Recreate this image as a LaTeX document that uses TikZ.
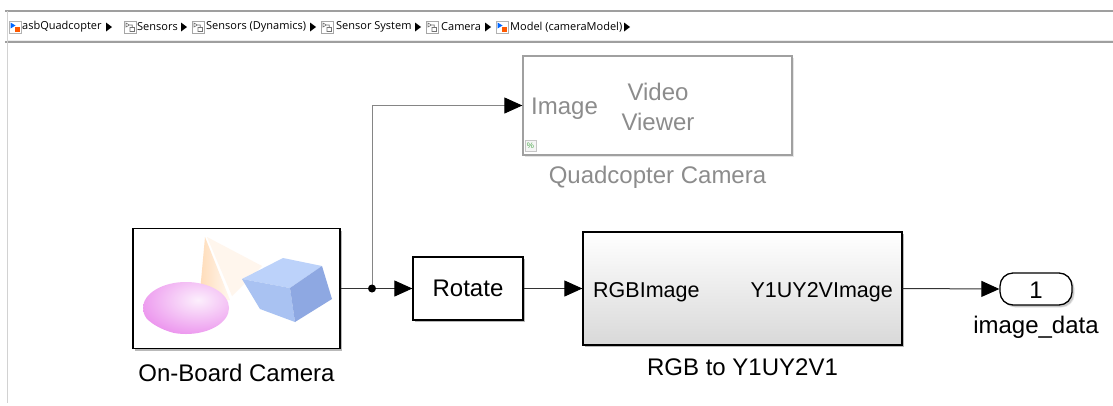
\documentclass[tikz,border=0pt]{standalone}
\usepackage{fontspec}
\setmainfont{Liberation Sans}
\newfontfamily\crumbfont{Open Sans}
\usetikzlibrary{arrows.meta}
\usetikzlibrary{positioning}
\usetikzlibrary{shadows}
\definecolor{cGrey}{HTML}{A0A0A0}
\definecolor{cText}{HTML}{8C8C8C}
\definecolor{cWire}{HTML}{333333}
\definecolor{cBranch}{HTML}{858585}
\definecolor{cPink}{HTML}{EC96EE}
\definecolor{cPinkLo}{HTML}{D08CD8}
\definecolor{cBlueA}{HTML}{BCD2FA}
\definecolor{cBlueB}{HTML}{A9C2F2}
\definecolor{cBlueC}{HTML}{8EA8E2}

\newcommand{\blkfont}{\fontsize{24}{28}\selectfont}
\newcommand{\portfont}{\fontsize{21.5}{25}\selectfont}

% small icons of the path bar
\newcommand{\mdlicon}[1]{%
  \begin{scope}[shift={#1}]
    \draw[gray!60, fill=white] (0,0) rectangle (12,12);
    \fill[blue!60!cyan] (1.5,1.5) -- (6.5,4.5) -- (1.5,7.5) -- cycle;
    \fill[orange!70!red] (6,6) rectangle (11,11);
  \end{scope}}
\newcommand{\subicon}[1]{%
  \begin{scope}[shift={#1}]
    \draw[gray!70, fill=white] (0,0) rectangle (12,12);
    \draw[gray!90!black, line width=0.6pt] (2,2) -- (5.5,4) -- (2,6) -- cycle
      (6,6.5) rectangle (10.5,10.5) (5.5,4) -| (8.2,6.5);
  \end{scope}}

\tikzset{
  blk/.style={draw=black, line width=1.3pt, fill=white, inner sep=0pt,
    drop shadow={shadow xshift=2pt, shadow yshift=-2pt, fill=gray!55, opacity=1}},
  greyblk/.style={draw=cGrey, line width=1.3pt, fill=white, inner sep=0pt,
    drop shadow={shadow xshift=2pt, shadow yshift=-2pt, fill=gray!20, opacity=1}},
  wire/.style={cWire, line width=1pt},
  branch/.style={cBranch, line width=1pt},
  tip/.style={-{Triangle[length=18pt, width=16pt, color=black]}},
  lbl/.style={anchor=base, inner sep=0pt, font=\blkfont},
  crumb/.style={anchor=west, inner sep=0pt, font=\crumbfont\fontsize{11}{12}\selectfont},
  barline/.style={gray!75, line width=1.4pt}
}

\begin{document}
\begin{tikzpicture}[x=1pt,y=-1pt]
\useasboundingbox (0,0) rectangle (1113,405);

% path bar
\draw[barline] (5,11) -- (1113,11);
\draw[barline] (5,42) -- (1113,42);
\draw[gray!15, line width=1pt] (7,40) -- (1113,40);
\draw[gray!35, line width=1pt] (7,11) -- (7,403);
\mdlicon{(9,21)}
\node[crumb] (c1) at (22,27) {asbQuadcopter};
\subicon{(124,21)}
\node[crumb] (c2) at (137,27) {Sensors};
\subicon{(192,21)}
\node[crumb] (c3) at (206,27) {Sensors (Dynamics)};
\subicon{(321,21)}
\node[crumb] (c4) at (336,27) {Sensor System};
\subicon{(426,21)}
\node[crumb] (c5) at (441,27) {Camera};
\mdlicon{(496,21)}
\node[crumb] (c6) at (510,27) {Model (cameraModel)};
\foreach \x in {106,181,310,415,485,624}
  \fill (\x,22.5) -- (\x+6,27) -- (\x,31.5) -- cycle;

% blocks
\node[blk, minimum width=207pt, minimum height=120pt] (cam) at (236.5,288.5) {};
\node[blk, minimum width=110pt, minimum height=63pt, font=\blkfont] (rot) at (468,288.5) {Rotate};
\node[blk, minimum width=319pt, minimum height=113pt,
      top color=white, bottom color=black!15] (rgb) at (742.5,288.5) {};
\node[greyblk, minimum width=269pt, minimum height=99pt] (vv) at (657.5,105.5) {};
\node[blk, drop shadow={fill=gray!30}, minimum width=72pt, minimum height=32pt,
      rounded corners=13pt] (out) at (1036,289) {};

% camera picture
\begin{scope}
  \clip (cam.south west) rectangle (cam.north east);
  \fill[orange!7] (207,237) -- (262,266) -- (232,296) -- cycle;
  \shade[left color=orange!28, right color=orange!6] (205,237) -- (199,303) -- (230,300) -- cycle;
  \begin{scope}
    \clip (186,308) ellipse (43pt and 26pt);
    \shade[inner color=white!85!cPink, outer color=cPink] (198,300) ellipse (60pt and 36pt);
  \end{scope}
  \fill[cBlueA] (242,279) -- (283,258) -- (322,266) -- (290,288) -- cycle;
  \fill[cBlueB] (242,279) -- (290,288) -- (295,322) -- (260,309) -- cycle;
  \fill[cBlueC] (290,288) -- (322,266) -- (332,299) -- (295,322) -- cycle;
\end{scope}

% texts
\node[lbl] (camlbl) at (236.5,381) {On-Board Camera};
\node[lbl] (rgblbl) at (742.5,375) {RGB to Y1UY2V1};
\node[lbl, text=cText] (vvlbl) at (657.5,183) {Quadcopter Camera};
\node[lbl] (outlbl) at (1036,333) {image\_data};
\node[lbl] (outnum) at (1036,298) {1};
\node[anchor=base west, inner sep=0pt, font=\portfont] (rgbin) at (593,297) {RGBImage};
\node[anchor=base east, inner sep=0pt, font=\portfont] (rgbout) at (893,297) {Y1UY2VImage};
\node[anchor=base west, inner sep=0pt, font=\blkfont, text=cText] (vvin) at (531,114) {Image};
\node[lbl, text=cText] (vvname) at (658,100) {Video};
\node[lbl, text=cText] (vvname2) at (658,130) {Viewer};
\draw[gray!45, fill=gray!8] (525,140) rectangle (536,151);
\node[inner sep=0pt, font=\fontsize{8}{8}\selectfont, text=green!35!gray] (pct) at (530.5,145.5) {\%};

% signal lines
\coordinate (split) at (372,288.5);
\draw[wire] (cam.east) -- (split);
\draw[wire, tip] (split) -- (rot.west);
\draw[branch, tip] (split) |- (vv.west);
\fill[black] (split) circle (4pt);
\draw[wire, tip] (rot.east) -- (rgb.west);
\draw[wire, tip] (rgb.east) -- (out.west);
\end{tikzpicture}
\end{document}
